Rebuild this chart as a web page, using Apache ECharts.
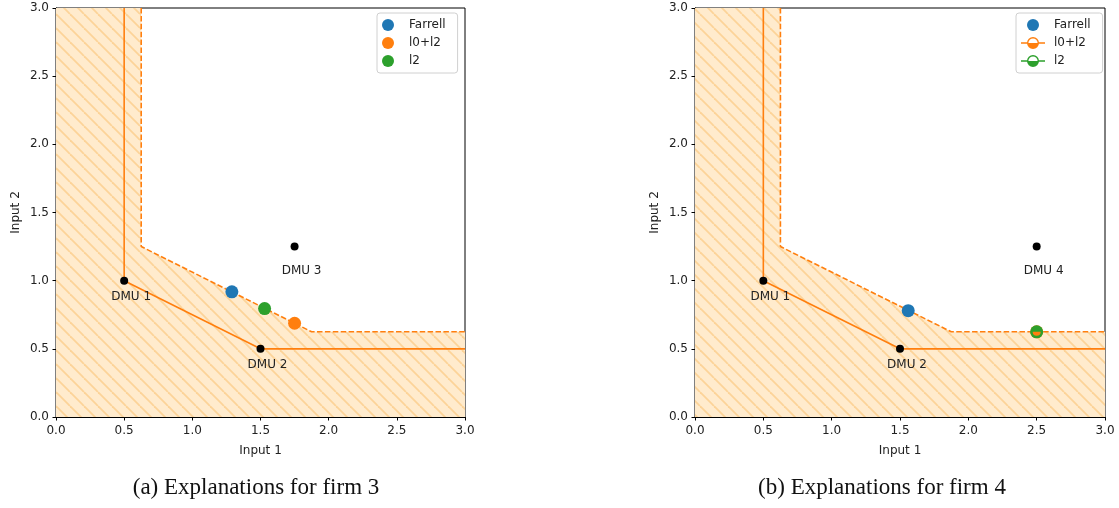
<!DOCTYPE html>
<html>
<head>
<meta charset="utf-8">
<script src="https://cdn.jsdelivr.net/npm/echarts@6/dist/echarts.min.js"></script>
<style>
  html, body { margin: 0; padding: 0; background: #fff; }
  #chart { width: 1119px; height: 508px; }
</style>
</head>
<body>
<div id="chart"></div>
<script>
// frontier of the original DMUs and the scaled one (dashed)
const solidFrontier = [[0.5, 3], [0.5, 1], [1.5, 0.5], [3, 0.5]];
const dashedFrontier = [[0.625, 3], [0.625, 1.25], [1.875, 0.625], [3, 0.625]];
const shadedRegion = [[0, 3], [0.625, 3], [0.625, 1.25], [1.875, 0.625], [3, 0.625]];

const dmuNamesA = ['DMU 1', 'DMU 2', 'DMU 3'];
const dmuPointsA = [[0.5, 1], [1.5, 0.5], [1.75, 1.25]];
const dmuNamesB = ['DMU 1', 'DMU 2', 'DMU 4'];
const dmuPointsB = [[0.5, 1], [1.5, 0.5], [2.5, 1.25]];

const farrellA = [[1.29, 0.918]];
const l0l2A = [[1.75, 0.6875]];
const l2A = [[1.53, 0.795]];

const farrellB = [[1.56, 0.78]];
const l0l2B = [[2.5, 0.625]];
const l2B = [[2.5, 0.625]];

const captions = ['(a) Explanations for firm 3', '(b) Explanations for firm 4'];

const BLUE = '#1f77b4', ORANGE = '#ff7f0e', GREEN = '#2ca02c';
const FONT = 'DejaVu Sans';

// hatch tile  '\\'
function hatchTile() {
    let s = 14;
    let c = document.createElement('canvas');
    c.width = s; c.height = s;
    let ctx = c.getContext('2d');
    ctx.fillStyle = '#ffebcd';
    ctx.fillRect(0, 0, s, s);
    ctx.strokeStyle = '#fcd398';
    ctx.lineWidth = 1.8;
    [-s, 0, s].forEach(function (d) {
        ctx.beginPath();
        ctx.moveTo(d, 0);
        ctx.lineTo(d + s, s);
        ctx.stroke();
    });
    return c;
}
const tile = hatchTile();

// legend icon: line through a circle filled in its lower half
const halfIcon = 'path://M0 5.2H6.2V6.8H0Z M17.8 5.2H24V6.8H17.8Z ' +
    'M6 6A6 6 0 1 1 18 6A6 6 0 1 1 6 6Z M7.4 6A4.6 4.6 0 1 0 16.6 6A4.6 4.6 0 1 0 7.4 6Z ' +
    'M7.4 6H16.6A4.6 4.6 0 0 1 7.4 6Z';

const grids = [
    {left: 56, top: 8, width: 409, height: 409, show: true, borderColor: '#000', borderWidth: 1},
    {left: 695, top: 8, width: 410, height: 409, show: true, borderColor: '#000', borderWidth: 1}
];

function axis(name, gap, i, rotate, margin) {
    return {
        type: 'value', gridIndex: i, min: 0, max: 3, interval: 0.5,
        name: name, nameLocation: 'middle', nameGap: gap, nameRotate: rotate,
        nameTextStyle: {fontFamily: FONT, fontSize: 12, color: '#222'},
        axisLine: {show: true, lineStyle: {color: '#000', width: 1}},
        axisTick: {show: true, length: 3.5, lineStyle: {color: '#000'}},
        axisLabel: {fontFamily: FONT, fontSize: 12, color: '#222', margin: margin,
            formatter: function (v) { return v.toFixed(1); }},
        splitLine: {show: false}
    };
}

function dmuSeries(i, names, pts) {
    return {
        type: 'scatter', xAxisIndex: i, yAxisIndex: i, z: 5,
        symbolSize: 8, itemStyle: {color: '#000', opacity: 1},
        data: pts.map(function (p, k) {
            return {
                value: p, name: names[k],
                label: {show: true, position: 'inside', offset: [7, k === 2 ? 24 : 16],
                    formatter: '{b}', fontFamily: FONT, fontSize: 12, color: '#222'}
            };
        })
    };
}

function panelSeries(i) {
    return [
        {type: 'line', xAxisIndex: i, yAxisIndex: i, z: 1, data: shadedRegion, symbol: 'none',
            lineStyle: {width: 0}, areaStyle: {color: {image: tile, repeat: 'repeat'}, opacity: 1},
            silent: true},
        {type: 'line', xAxisIndex: i, yAxisIndex: i, z: 2, data: solidFrontier, symbol: 'none',
            lineStyle: {color: ORANGE, width: 1.6}},
        {type: 'line', xAxisIndex: i, yAxisIndex: i, z: 2, data: dashedFrontier, symbol: 'none',
            lineStyle: {color: ORANGE, width: 1.6, type: [5.5, 2.4]}}
    ];
}

let series = [].concat(
    panelSeries(0),
    [dmuSeries(0, dmuNamesA, dmuPointsA)],
    [
        {name: 'Farrell', type: 'scatter', xAxisIndex: 0, yAxisIndex: 0, z: 6, symbolSize: 13,
            itemStyle: {color: BLUE, opacity: 1}, data: farrellA},
        {name: 'l0+l2', type: 'scatter', xAxisIndex: 0, yAxisIndex: 0, z: 6, symbolSize: 13,
            itemStyle: {color: ORANGE, opacity: 1}, data: l0l2A},
        {name: 'l2', type: 'scatter', xAxisIndex: 0, yAxisIndex: 0, z: 6, symbolSize: 13,
            itemStyle: {color: GREEN, opacity: 1}, data: l2A}
    ],
    panelSeries(1),
    [dmuSeries(1, dmuNamesB, dmuPointsB)],
    [
        {name: 'Farrell', type: 'scatter', xAxisIndex: 1, yAxisIndex: 1, z: 6, symbolSize: 13,
            itemStyle: {color: BLUE, opacity: 1}, data: farrellB},
        {name: 'l0+l2 ', type: 'scatter', xAxisIndex: 1, yAxisIndex: 1, z: 6, symbolSize: 13,
            itemStyle: {color: ORANGE, opacity: 1}, data: l0l2B},
        {name: 'l2 ', type: 'scatter', xAxisIndex: 1, yAxisIndex: 1, z: 7, symbolSize: 13,
            itemStyle: {color: GREEN, opacity: 1}, data: l2B},
        {type: 'scatter', xAxisIndex: 1, yAxisIndex: 1, z: 8, symbol: 'path://M0 0H2A1 1 0 0 1 0 0Z',
            symbolSize: [8, 4], symbolOffset: [0, 2], itemStyle: {color: ORANGE, opacity: 1}, data: l0l2B, silent: true}
    ]
);

function legend(left, items) {
    return {
        orient: 'vertical', left: left, top: 13, itemWidth: 24, itemHeight: 12, itemGap: 6,
        padding: [6, 12, 6, 5], borderColor: '#d0d0d0', borderWidth: 1, borderRadius: 3,
        backgroundColor: 'rgba(255,255,255,0.85)', selectedMode: false,
        textStyle: {fontFamily: FONT, fontSize: 12, color: '#222', padding: [0, 0, 0, 4]},
        formatter: function (n) { return n.trim(); },
        data: items
    };
}

let option = {
    animation: false,
    backgroundColor: '#fff',
    grid: grids,
    xAxis: [axis('Input 1', 28, 0, 0, 8), axis('Input 1', 28, 1, 0, 8)],
    yAxis: [axis('Input 2', 34, 0, 90, 7), axis('Input 2', 34, 1, 90, 7)],
    legend: [
        legend(377, [{name: 'Farrell', icon: 'circle'}, {name: 'l0+l2', icon: 'circle'}, {name: 'l2', icon: 'circle'}]),
        legend(1016, [{name: 'Farrell', icon: 'circle'}, {name: 'l0+l2 ', icon: halfIcon}, {name: 'l2 ', icon: halfIcon}])
    ],
    graphic: [
        {type: 'text', x: 256, y: 488, style: {text: captions[0], font: '23px "Liberation Serif"', fill: '#111', textAlign: 'center', textVerticalAlign: 'middle'}},
        {type: 'text', x: 882, y: 488, style: {text: captions[1], font: '23px "Liberation Serif"', fill: '#111', textAlign: 'center', textVerticalAlign: 'middle'}}
    ],
    series: series
};

let myChart = echarts.init(document.getElementById('chart'));
myChart.setOption(option);
</script>
</body>
</html>
